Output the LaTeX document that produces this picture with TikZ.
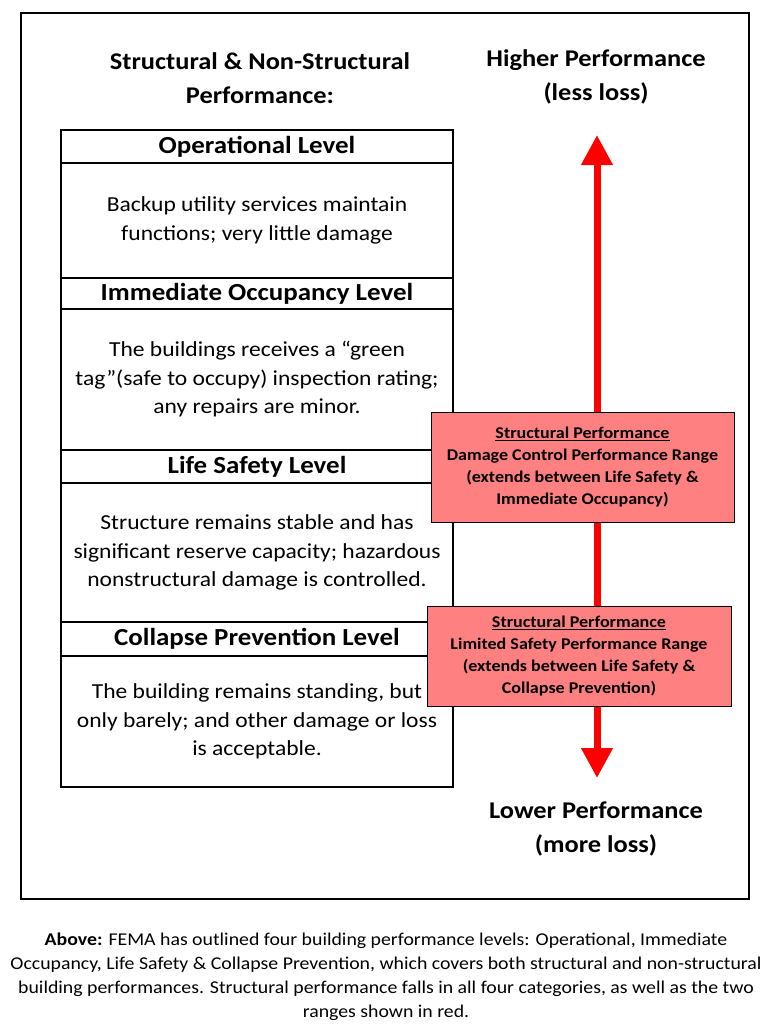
\documentclass[tikz,border=0pt]{standalone}
\usepackage{fontspec}
\setmainfont{Carlito}[FakeStretch=1.1]
\usetikzlibrary{arrows.meta, positioning}

\definecolor{rangoRojo}{RGB}{255, 128, 128}
\definecolor{flechaRoja}{RGB}{255, 0, 0}

\tikzset{
    levelHead/.style={
        rectangle, draw=black, line width=1.3pt, fill=white,
        minimum width=392pt, inner sep=0pt,
        font=\fontsize{24.5}{26}\selectfont\bfseries
    },
    levelBody/.style={
        rectangle, draw=black, line width=1.3pt, fill=white,
        minimum width=392pt, inner sep=0pt, align=center,
        font=\fontsize{21.4}{28.5}\selectfont
    },
    rangeBox/.style={
        rectangle, draw=black, line width=1pt, fill=rangoRojo,
        inner sep=0pt, align=center,
        font=\fontsize{16.4}{22}\selectfont\bfseries
    },
    bigLabel/.style={
        align=center, inner sep=0pt,
        font=\fontsize{24}{34}\selectfont\bfseries
    },
    perfArrow/.style={
        {Triangle[length=30pt,width=30pt]}-{Triangle[length=30pt,width=30pt]},
        line width=7pt, color=flechaRoja
    },
}

\begin{document}
\begin{tikzpicture}[x=1pt, y=-1pt]

    \useasboundingbox[fill=white] (0,0) rectangle (772,1036);

    % marco exterior
    \draw[line width=2pt] (21,13) rectangle (749,899);

    % titulos
    \node[bigLabel] at (260, 78) (titulo)   {Structural \& Non-Structural\\Performance:};
    \node[bigLabel] at (596, 77) (higher)   {Higher Performance\\(less loss)};
    \node[bigLabel] at (596, 829) (lower)   {Lower Performance\\(more loss)};

    % niveles
    \node[levelHead, minimum height=33pt]  at (257, 146.5) (opHead) {Operational Level};
    \node[levelBody, minimum height=115pt] at (257, 220.5) (opBody)
        {Backup utility services maintain\\functions; very little damage};
    \node[levelHead, minimum height=31pt]  at (257, 293.5) (ioHead) {Immediate Occupancy Level};
    \node[levelBody, minimum height=141pt] at (257, 379.5) (ioBody)
        {The buildings receives a “green\\tag”(safe to occupy) inspection rating;\\any repairs are minor.};
    \node[levelHead, minimum height=33pt]  at (257, 466.5) (lsHead) {Life Safety Level};
    \node[levelBody, minimum height=139pt] at (257, 552.5) (lsBody)
        {Structure remains stable and has\\significant reserve capacity; hazardous\\nonstructural damage is controlled.};
    \node[levelHead, minimum height=34pt]  at (257, 639) (cpHead) {Collapse Prevention Level};
    \node[levelBody, minimum height=131pt] at (257, 721.5) (cpBody)
        {The building remains standing, but\\only barely; and other damage or loss\\is acceptable.};

    % flecha de desempeno
    \coordinate (arrowTop) at (597, 135);
    \coordinate (arrowBot) at (597, 778);
    \draw[perfArrow] (arrowBot) -- (arrowTop);

    % rangos estructurales
    \node[rangeBox, minimum width=303pt, minimum height=110pt] at (582.5, 467) (dcRange)
        {\underline{Structural Performance}\\Damage Control Performance Range\\(extends between Life Safety \&\\Immediate Occupancy)};
    \node[rangeBox, minimum width=304pt, minimum height=100pt] at (579, 656) (lsRange)
        {\underline{Structural Performance}\\Limited Safety Performance Range\\(extends between Life Safety \&\\Collapse Prevention)};

    % pie de figura
    \node[align=center, inner sep=0pt, font=\fontsize{18}{24}\selectfont] at (386, 977) (caption)
        {\textbf{Above:} FEMA has outlined four building performance levels: Operational, Immediate\\
         Occupancy, Life Safety \& Collapse Prevention, which covers both structural and non-structural\\
         building performances. Structural performance falls in all four categories, as well as the two\\
         ranges shown in red.};

\end{tikzpicture}
\end{document}
